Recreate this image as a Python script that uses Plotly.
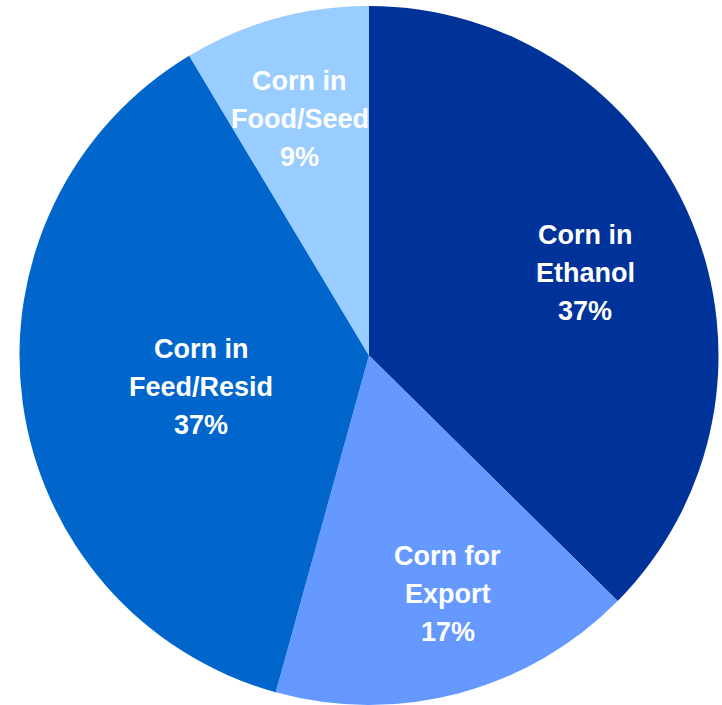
import math
import plotly.graph_objects as go

categories = ["Corn in Ethanol", "Corn for Export", "Corn in Feed/Resid", "Corn in Food/Seed"]
label_lines = [["Corn in", "Ethanol"], ["Corn for", "Export"], ["Corn in", "Feed/Resid"], ["Corn in", "Food/Seed"]]
values = [37.4, 16.9, 37.1, 8.6]
colors = ["#003399", "#6699FF", "#0066CC", "#99CCFF"]

# style: label placement relative to each slice's mid-angle
label_radius = [0.6615, 0.7185, 0.489, 0.705]      # fraction of radius
label_angle_offset = [1.8, -3.3, -2.9, -0.9]        # degrees

W, H = 722, 705
dom_x = [19.5 / W, 718.5 / W]
dom_y = [0, 699 / H]

fig = go.Figure(go.Pie(
    labels=categories,
    values=values,
    sort=False,
    direction="clockwise",
    rotation=0,
    marker=dict(colors=colors, line=dict(width=0)),
    textinfo="none",
    hoverinfo="none",
    domain=dict(x=dom_x, y=dom_y),
))

# annotations placed from data-driven slice mid-angles
cx = (dom_x[0] + dom_x[1]) / 2 * W
cy = (dom_y[0] + dom_y[1]) / 2 * H
r = min((dom_x[1] - dom_x[0]) * W, (dom_y[1] - dom_y[0]) * H) / 2
total = sum(values)
cum = 0
font = dict(family="Liberation Sans, Arial, sans-serif", size=27, color="white")
line_gap = 38
for v, lines, rf, da in zip(values, label_lines, label_radius, label_angle_offset):
    mid = (cum + v / 2) / total * 2 * math.pi + math.radians(da)
    cum += v
    px = cx + rf * r * math.sin(mid)
    py = cy + rf * r * math.cos(mid)
    pct = f"{round(v / total * 100)}%"
    all_lines = lines + [pct]
    n = len(all_lines)
    for i, t in enumerate(all_lines):
        fig.add_annotation(
            x=px / W, y=py / H, xref="paper", yref="paper",
            text=f"<b>{t}</b>", showarrow=False,
            xanchor="center", yanchor="middle",
            yshift=((n - 1) / 2 - i) * line_gap,
            font=font,
        )

fig.update_layout(
    width=W, height=H,
    margin=dict(l=0, r=0, t=0, b=0),
    showlegend=False,
    paper_bgcolor="white",
)
fig.write_html("out.html", config={"displayModeBar": False},
               post_script="document.body.style.margin='0';")
